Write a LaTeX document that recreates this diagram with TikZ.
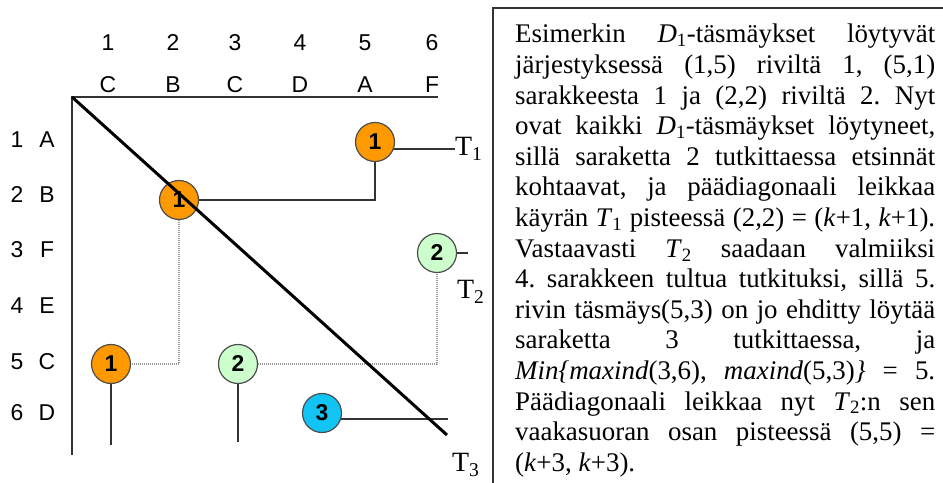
\documentclass[tikz,border=0pt]{standalone}
\usepackage{fontspec}
\setmainfont{Liberation Serif}
\newfontfamily\grafont{Liberation Sans}
\usepackage{tikz}
\usetikzlibrary{backgrounds}
\definecolor{hitor}{HTML}{FF9900}
\definecolor{hitgr}{HTML}{CCFFCC}
\definecolor{hitbl}{HTML}{11C4F4}
\definecolor{ink}{HTML}{333333}
\tikzset{
  hit/.style   = {circle, draw=black!70, line width=1.2bp, minimum size=39bp,
                  inner sep=0pt, font=\grafont\bfseries\fontsize{23}{23}\selectfont},
  axlbl/.style = {inner sep=0pt, font=\grafont\fontsize{23}{23}\selectfont},
  tlbl/.style  = {inner sep=0pt, anchor=west, font=\fontsize{28}{28}\selectfont},
  axis/.style  = {draw=ink, line width=1.2bp},
  trace/.style = {draw=ink, line width=1.6bp},
  dots/.style  = {draw=black!40, line width=1.1bp, dash pattern=on 1bp off 1bp},
  diag/.style  = {draw=black, line width=3bp},
  frame/.style = {draw=ink, line width=1.4bp},
  expl/.style  = {inner sep=0pt, text width=420bp, align=justify, anchor=base west,
                  font=\fontsize{27}{30.7}\selectfont},
}

\begin{document}
\begin{tikzpicture}[x=1bp, y=-1bp]
  \clip (0,0) rectangle (943,483);
  % column and row headings
  \foreach \x/\c [count=\i] in {108/C,173/B,235/C,300/D,365/A,432/F} {
    \node[axlbl] (colnum\i) at (\x,43) {\i};
    \node[axlbl] (collet\i) at (\x,85) {\c};
  }
  \foreach \y/\r [count=\i] in {140/A,195/B,250/F,306/E,362/C,413/D} {
    \node[axlbl] (rownum\i) at (17,\y) {\i};
    \node[axlbl] (rowlet\i) at (47,\y) {\r};
  }
  \coordinate (corner) at (72,97);
  \coordinate (topend) at (438,97);
  \coordinate (leftend) at (72,455);
  \draw[axis] (topend) -- (corner) -- (leftend);
  % matches
  \node[hit, fill=hitor] (c15) at (375,142) {1};
  \node[hit, fill=hitor] (c22) at (179,200) {1};
  \node[hit, fill=hitor] (c51) at (111,364) {1};
  \node[hit, fill=hitgr] (c53) at (238,364) {2};
  \node[hit, fill=hitgr] (c36) at (437,253) {2};
  \node[hit, fill=hitbl] (c64) at (322,413) {3};
  \node[tlbl] (T1) at (455,149) {T\textsubscript{1}};
  \node[tlbl] (T2) at (457,292) {T\textsubscript{2}};
  \node[tlbl] (T3) at (452,465) {T\textsubscript{3}};
  \coordinate (e51) at (111,445);
  \coordinate (e53) at (238,442);
  \coordinate (t2end) at (468,253);
  \coordinate (t3end) at (448,419);
  \coordinate (diagend) at (447,435);
  \begin{scope}[on background layer]
    \draw[trace] (c15 |- T1.west) -- (T1.west);
    \draw[trace] (c15) |- (c22);
    \draw[dots] (c22) |- (c51);
    \draw[trace] (c51) -- (e51);
    \draw[trace] (c53) -- (e53);
    \draw[dots] (c53) -| (c36);
    \draw[trace] (c36) -- (t2end);
    \draw[trace] (c64 |- t3end) -- (t3end);
  \end{scope}
  \draw[diag] (corner) -- (diagend);
  % explanation
  \draw[frame] (493,8) rectangle (960,500);
  \node[expl] (expl) at (515,43) {\frenchspacing\tolerance=10000\hyphenpenalty=10000\exhyphenpenalty=10000
    Esimerkin \textit{D}\textsubscript{1}-täsmäykset löytyvät\linebreak
    järjestyksessä (1,5) riviltä 1, (5,1)\linebreak
    sarakkeesta 1 ja (2,2) riviltä 2. Nyt\linebreak
    ovat kaikki \textit{D}\textsubscript{1}-täsmäykset löytyneet,\linebreak
    sillä saraketta 2 tutkittaessa etsinnät\linebreak
    kohtaavat, ja päädiagonaali leikkaa\linebreak
    käyrän \textit{T}\textsubscript{1} pisteessä (2,2) = (\textit{k}+1, \textit{k}+1).\linebreak
    Vastaavasti \textit{T}\textsubscript{2} saadaan valmiiksi\linebreak
    4. sarakkeen tultua tutkituksi, sillä 5.\linebreak
    rivin täsmäys(5,3) on jo ehditty löytää\linebreak
    saraketta 3 tutkittaessa, ja\linebreak
    \textit{Min\{maxind}(3,6), \textit{maxind}(5,3)\textit{\}} = 5.\linebreak
    Päädiagonaali leikkaa nyt \textit{T}\textsubscript{2}:n sen\linebreak
    vaakasuoran osan pisteessä (5,5) =\linebreak
    (\textit{k}+3, \textit{k}+3).};
\end{tikzpicture}
\end{document}
